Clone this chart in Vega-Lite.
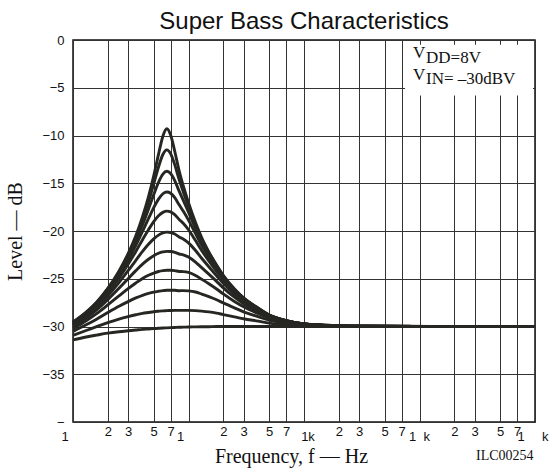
{
  "$schema": "https://vega.github.io/schema/vega-lite/v6.json",
  "width": 462,
  "height": 382,
  "autosize": {"type": "none"},
  "padding": {"left": 73, "top": 40, "right": 17, "bottom": 51},
  "background": "white",
  "config": {
    "view": {"stroke": "#111111", "strokeWidth": 1.5},
    "axis": {"ticks": false, "domain": false, "grid": true, "gridColor": "#333333", "gridWidth": 1, "gridOpacity": 1, "labelFont": "Liberation Sans", "labelFontSize": 13, "labelColor": "#111111", "titleColor": "#111111", "titleFont": "Liberation Serif", "titleFontWeight": "normal", "titleFontSize": 20}
  },
  "title": {"text": "Super Bass Characteristics", "font": "Liberation Sans", "fontSize": 24, "fontWeight": "normal", "color": "#111111", "anchor": "middle", "offset": 9, "baseline": "alphabetic", "dy": 28},
  "layer": [
    {
      "data": {"values": [
        {"f":10,"c1":-29.53,"c2":-29.58,"c3":-29.64,"c4":-29.72,"c5":-29.80,"c6":-29.91,"c7":-30.05,"c8":-30.23,"c9":-30.51,"c10":-30.92,"c11":-31.40},
        {"f":13,"c1":-28.49,"c2":-28.54,"c3":-28.61,"c4":-28.69,"c5":-28.79,"c6":-28.94,"c7":-29.13,"c8":-29.41,"c9":-29.82,"c10":-30.42,"c11":-31.10},
        {"f":16,"c1":-27.45,"c2":-27.50,"c3":-27.57,"c4":-27.67,"c5":-27.80,"c6":-28.00,"c7":-28.27,"c8":-28.66,"c9":-29.23,"c10":-30.02,"c11":-30.90},
        {"f":20,"c1":-26.00,"c2":-26.07,"c3":-26.17,"c4":-26.30,"c5":-26.49,"c6":-26.79,"c7":-27.19,"c8":-27.74,"c9":-28.54,"c10":-29.60,"c11":-30.70},
        {"f":25,"c1":-24.20,"c2":-24.29,"c3":-24.44,"c4":-24.65,"c5":-24.94,"c6":-25.40,"c7":-26.00,"c8":-26.80,"c9":-27.88,"c10":-29.23,"c11":-30.55},
        {"f":30,"c1":-22.37,"c2":-22.51,"c3":-22.73,"c4":-23.05,"c5":-23.48,"c6":-24.16,"c7":-24.99,"c8":-26.04,"c9":-27.39,"c10":-28.97,"c11":-30.45},
        {"f":35,"c1":-20.49,"c2":-20.70,"c3":-21.03,"c4":-21.51,"c5":-22.14,"c6":-23.07,"c7":-24.15,"c8":-25.44,"c9":-27.01,"c10":-28.77,"c11":-30.37},
        {"f":40,"c1":-18.51,"c2":-18.84,"c3":-19.35,"c4":-20.04,"c5":-20.91,"c6":-22.13,"c7":-23.47,"c8":-24.97,"c9":-26.73,"c10":-28.62,"c11":-30.30},
        {"f":45,"c1":-16.43,"c2":-16.95,"c3":-17.72,"c4":-18.71,"c5":-19.87,"c6":-21.39,"c7":-22.96,"c8":-24.64,"c9":-26.54,"c10":-28.53,"c11":-30.26},
        {"f":50,"c1":-14.22,"c2":-15.05,"c3":-16.19,"c4":-17.55,"c5":-19.02,"c6":-20.82,"c7":-22.58,"c8":-24.40,"c9":-26.40,"c10":-28.45,"c11":-30.22},
        {"f":55,"c1":-11.97,"c2":-13.30,"c3":-14.91,"c4":-16.66,"c5":-18.41,"c6":-20.43,"c7":-22.33,"c8":-24.24,"c9":-26.31,"c10":-28.40,"c11":-30.19},
        {"f":60,"c1":-10.07,"c2":-11.99,"c3":-14.05,"c4":-16.10,"c5":-18.05,"c6":-20.20,"c7":-22.19,"c8":-24.15,"c9":-26.24,"c10":-28.36,"c11":-30.16},
        {"f":65,"c1":-9.30,"c2":-11.50,"c3":-13.75,"c4":-15.91,"c5":-17.92,"c6":-20.12,"c7":-22.13,"c8":-24.11,"c9":-26.21,"c10":-28.34,"c11":-30.14},
        {"f":70,"c1":-9.95,"c2":-11.90,"c3":-13.98,"c4":-16.04,"c5":-18.00,"c6":-20.16,"c7":-22.15,"c8":-24.11,"c9":-26.20,"c10":-28.32,"c11":-30.12},
        {"f":76,"c1":-11.65,"c2":-13.05,"c3":-14.72,"c4":-16.50,"c5":-18.29,"c6":-20.32,"c7":-22.23,"c8":-24.15,"c9":-26.21,"c10":-28.31,"c11":-30.10},
        {"f":83,"c1":-13.71,"c2":-14.62,"c3":-15.83,"c4":-17.26,"c5":-18.79,"c6":-20.62,"c7":-22.41,"c8":-24.24,"c9":-26.25,"c10":-28.31,"c11":-30.08},
        {"f":90,"c1":-15.26,"c2":-15.89,"c3":-16.78,"c4":-17.91,"c5":-19.19,"c6":-20.83,"c7":-22.49,"c8":-24.25,"c9":-26.24,"c10":-28.31,"c11":-30.07},
        {"f":100,"c1":-17.04,"c2":-17.43,"c3":-18.04,"c4":-18.86,"c5":-19.87,"c6":-21.24,"c7":-22.72,"c8":-24.34,"c9":-26.27,"c10":-28.31,"c11":-30.05},
        {"f":115,"c1":-19.10,"c2":-19.35,"c3":-19.73,"c4":-20.28,"c5":-21.00,"c6":-22.04,"c7":-23.25,"c8":-24.66,"c9":-26.39,"c10":-28.34,"c11":-30.04},
        {"f":130,"c1":-20.68,"c2":-20.85,"c3":-21.11,"c4":-21.50,"c5":-22.04,"c6":-22.85,"c7":-23.84,"c8":-25.05,"c9":-26.60,"c10":-28.39,"c11":-30.03},
        {"f":150,"c1":-22.18,"c2":-22.29,"c3":-22.47,"c4":-22.74,"c5":-23.13,"c6":-23.74,"c7":-24.52,"c8":-25.52,"c9":-26.87,"c10":-28.47,"c11":-30.02},
        {"f":175,"c1":-23.57,"c2":-23.65,"c3":-23.77,"c4":-23.96,"c5":-24.23,"c6":-24.68,"c7":-25.27,"c8":-26.07,"c9":-27.20,"c10":-28.60,"c11":-30.00},
        {"f":200,"c1":-24.64,"c2":-24.70,"c3":-24.80,"c4":-24.93,"c5":-25.14,"c6":-25.48,"c7":-25.95,"c8":-26.59,"c9":-27.53,"c10":-28.75,"c11":-30.00},
        {"f":250,"c1":-26.08,"c2":-26.11,"c3":-26.17,"c4":-26.26,"c5":-26.39,"c6":-26.62,"c7":-26.93,"c8":-27.38,"c9":-28.05,"c10":-28.99,"c11":-30.00},
        {"f":300,"c1":-27.01,"c2":-27.03,"c3":-27.08,"c4":-27.14,"c5":-27.23,"c6":-27.39,"c7":-27.62,"c8":-27.94,"c9":-28.46,"c10":-29.19,"c11":-30.00},
        {"f":400,"c1":-28.07,"c2":-28.08,"c3":-28.10,"c4":-28.14,"c5":-28.19,"c6":-28.30,"c7":-28.43,"c8":-28.64,"c9":-28.96,"c10":-29.44,"c11":-30.00},
        {"f":500,"c1":-28.79,"c2":-28.80,"c3":-28.81,"c4":-28.84,"c5":-28.86,"c6":-28.92,"c7":-29.01,"c8":-29.12,"c9":-29.33,"c10":-29.64,"c11":-30.00},
        {"f":700,"c1":-29.38,"c2":-29.39,"c3":-29.39,"c4":-29.40,"c5":-29.42,"c6":-29.45,"c7":-29.49,"c8":-29.55,"c9":-29.65,"c10":-29.81,"c11":-30.00},
        {"f":1000,"c1":-29.72,"c2":-29.72,"c3":-29.72,"c4":-29.73,"c5":-29.73,"c6":-29.74,"c7":-29.76,"c8":-29.79,"c9":-29.83,"c10":-29.91,"c11":-30.00},
        {"f":1500,"c1":-29.87,"c2":-29.87,"c3":-29.87,"c4":-29.88,"c5":-29.88,"c6":-29.88,"c7":-29.89,"c8":-29.90,"c9":-29.92,"c10":-29.96,"c11":-30.00},
        {"f":2500,"c1":-29.96,"c2":-29.96,"c3":-29.96,"c4":-29.96,"c5":-29.96,"c6":-29.96,"c7":-29.96,"c8":-29.97,"c9":-29.97,"c10":-29.98,"c11":-30.00},
        {"f":100000,"c1":-30,"c2":-30,"c3":-30,"c4":-30,"c5":-30,"c6":-30,"c7":-30,"c8":-30,"c9":-30,"c10":-30,"c11":-30}
      ]},
      "transform": [{"fold": ["c1","c2","c3","c4","c5","c6","c7","c8","c9","c10","c11"], "as": ["curve", "level"]}],
      "mark": {"type": "line", "interpolate": "monotone", "strokeWidth": 2.9, "color": "#262622"},
      "encoding": {
        "x": {"field": "f", "type": "quantitative",
              "scale": {"type": "log", "domain": [10, 100000], "nice": false},
              "axis": {"values": [10,20,30,50,70,100,200,300,500,700,1000,2000,3000,5000,7000,10000,20000,30000,50000,70000,100000],
                       "labelExpr": "slice(toString(datum.value),0,1) == '1' ? '' : slice(toString(datum.value),0,1)",
                       "labelPadding": 3, "labelOverlap": false, "labelBound": false, "labelFlush": false,
                       "title": "Frequency, f — Hz", "titleX": 218, "titleY": 40, "titleBaseline": "alphabetic", "titleAlign": "center"}},
        "y": {"field": "level", "type": "quantitative",
              "scale": {"domain": [-40, 0], "nice": false, "zero": false},
              "axis": {"values": [-40,-35,-30,-25,-20,-15,-10,-5,0],
                       "labelExpr": "datum.value == -40 ? '\u2212\u2007\u2007' : datum.label",
                       "labelPadding": 9, "labelOverlap": false, "labelBound": false, "labelFlush": false,
                       "title": "Level — dB", "titleX": -52, "titleY": 191, "titleBaseline": "alphabetic", "titleAlign": "center", "titleAngle": -90}},
        "detail": {"field": "curve"}
      }
    },
    {
      "data": {"values": [{}]},
      "mark": {"type": "rect", "fill": "white"},
      "encoding": {"x": {"datum": 7500}, "x2": {"datum": 96000}, "y": {"datum": -0.5}, "y2": {"datum": -5.8}}
    },
    {
      "data": {"values": [{"t": "V"}]},
      "mark": {"type": "text", "font": "Liberation Serif", "fontSize": 17, "align": "left", "baseline": "alphabetic", "color": "#111111"},
      "encoding": {"x": {"datum": 8784}, "y": {"datum": -1.88}, "text": {"field": "t"}}
    },
    {
      "data": {"values": [{"t": "DD=8V"}]},
      "mark": {"type": "text", "font": "Liberation Serif", "fontSize": 17, "align": "left", "baseline": "alphabetic", "color": "#111111"},
      "encoding": {"x": {"datum": 11384}, "y": {"datum": -2.41}, "text": {"field": "t"}}
    },
    {
      "data": {"values": [{"t": "V"}]},
      "mark": {"type": "text", "font": "Liberation Serif", "fontSize": 17, "align": "left", "baseline": "alphabetic", "color": "#111111"},
      "encoding": {"x": {"datum": 8784}, "y": {"datum": -4.19}, "text": {"field": "t"}}
    },
    {
      "data": {"values": [{"t": "IN= \u201330dBV"}]},
      "mark": {"type": "text", "font": "Liberation Serif", "fontSize": 17, "align": "left", "baseline": "alphabetic", "color": "#111111"},
      "encoding": {"x": {"datum": 11384}, "y": {"datum": -4.65}, "text": {"field": "t"}}
    },
    {
      "data": {"values": [{"f": 10, "t": "1"}, {"f": 100, "t": "1"}]},
      "mark": {"type": "text", "font": "Liberation Sans", "fontSize": 13, "align": "center", "baseline": "top", "dx": -8, "dy": 9, "color": "#111111"},
      "encoding": {"x": {"field": "f", "type": "quantitative"}, "y": {"datum": -40}, "text": {"field": "t"}}
    },
    {
      "data": {"values": [{"f": 1000, "t": "1k"}]},
      "mark": {"type": "text", "font": "Liberation Sans", "fontSize": 13, "align": "center", "baseline": "top", "dx": 4, "dy": 9, "color": "#111111"},
      "encoding": {"x": {"field": "f", "type": "quantitative"}, "y": {"datum": -40}, "text": {"field": "t"}}
    },
    {
      "data": {"values": [{"f": 10000, "t": "1\u2007k"}]},
      "mark": {"type": "text", "font": "Liberation Sans", "fontSize": 13, "align": "center", "baseline": "top", "dx": 0, "dy": 9, "color": "#111111"},
      "encoding": {"x": {"field": "f", "type": "quantitative"}, "y": {"datum": -40}, "text": {"field": "t"}}
    },
    {
      "data": {"values": [{"f": 100000, "t": "1\u2007\u2007\u2009k"}]},
      "mark": {"type": "text", "font": "Liberation Sans", "fontSize": 13, "align": "center", "baseline": "top", "dx": -2, "dy": 9, "color": "#111111"},
      "encoding": {"x": {"field": "f", "type": "quantitative"}, "y": {"datum": -40}, "text": {"field": "t"}}
    },
    {
      "data": {"values": [{"t": "ILC00254"}]},
      "mark": {"type": "text", "font": "Liberation Serif", "fontSize": 14, "align": "left", "baseline": "alphabetic", "dy": 38, "color": "#111111"},
      "encoding": {"x": {"datum": 30830}, "y": {"datum": -40}, "text": {"field": "t"}}
    }
  ]
}
